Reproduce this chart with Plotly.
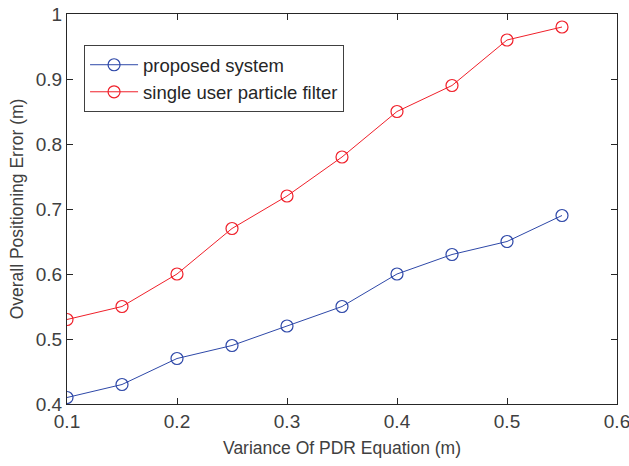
import plotly.graph_objects as go

x_vals = [0.1, 0.15, 0.2, 0.25, 0.3, 0.35, 0.4, 0.45, 0.5, 0.55]
proposed = [0.41, 0.43, 0.47, 0.49, 0.52, 0.55, 0.60, 0.63, 0.65, 0.69]
single = [0.53, 0.55, 0.60, 0.67, 0.72, 0.78, 0.85, 0.89, 0.96, 0.98]
x_ticks = [0.1, 0.2, 0.3, 0.4, 0.5, 0.6]
y_ticks = [0.4, 0.5, 0.6, 0.7, 0.8, 0.9, 1.0]
y_tick_text = ["0.4", "0.5", "0.6", "0.7", "0.8", "0.9", "1"]

FONT = "Liberation Sans, Arial, sans-serif"
fig = go.Figure()
fig.add_trace(go.Scatter(x=x_vals, y=proposed, mode="lines+markers", name="proposed system",
                         line=dict(color="#2E48A8", width=1),
                         marker=dict(symbol="circle-open", size=12, color="#2E48A8", line=dict(width=1.2))))
fig.add_trace(go.Scatter(x=x_vals, y=single, mode="lines+markers", name="single user particle filter",
                         line=dict(color="#F0202A", width=1),
                         marker=dict(symbol="circle-open", size=12, color="#F0202A", line=dict(width=1.2))))

axis_common = dict(showgrid=False, zeroline=False, showline=True, linecolor="#262626", linewidth=1,
                   mirror="ticks", ticks="inside", ticklen=6, tickcolor="#262626",
                   automargin=False, ticklabeloverflow="allow")
fig.update_xaxes(range=[0.1, 0.6], tickvals=x_ticks, ticktext=[str(v) for v in x_ticks],
                 tickfont=dict(family=FONT, size=19, color="#404040"),
                 title=dict(text="Variance Of PDR Equation (m)", font=dict(family=FONT, size=17.5, color="#404040"), standoff=10),
                 **axis_common)
fig.update_yaxes(range=[0.4, 1.0], tickvals=y_ticks, ticktext=y_tick_text,
                 tickfont=dict(family=FONT, size=19, color="#404040"),
                 title=dict(text="Overall Positioning Error (m)", font=dict(family=FONT, size=17.5, color="#404040"), standoff=7),
                 **axis_common)

fig.update_layout(width=629, height=466, margin=dict(l=67, r=12, t=14, b=62),
                  plot_bgcolor="white", paper_bgcolor="white",
                  legend=dict(x=0.031, y=0.92, xanchor="left", yanchor="top",
                              bgcolor="white", bordercolor="#404040", borderwidth=1,
                              font=dict(family=FONT, size=18.5, color="#262626"),
                              tracegroupgap=0, itemwidth=48),
                  showlegend=True)

fig.write_html("out.html")
